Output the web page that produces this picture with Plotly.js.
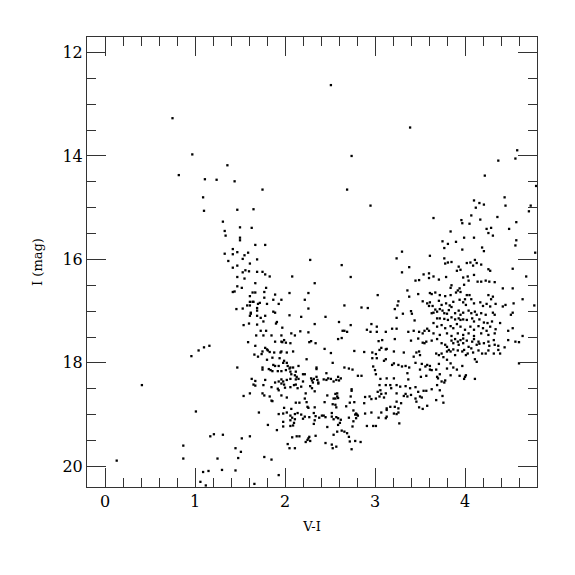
<!DOCTYPE html>
<html>
<head>
<meta charset="utf-8">
<script src="https://cdn.plot.ly/plotly-3.0.1.min.js"></script>
<style>html,body{margin:0;padding:0;background:#fff;}#chart{width:575px;height:575px;}</style>
</head>
<body>
<div id="chart"></div>
<script>
// Colour-magnitude diagram: [V-I, I (mag)]
const brightStars = [[0.75,13.27],[0.97,13.97],[1.36,14.18],[0.82,14.37],[1.11,14.45],[1.24,14.46],[1.44,14.49],
[1.09,14.80],[1.10,15.06],[1.31,15.27],[1.33,15.45],[1.34,15.54],[1.42,15.80],[1.42,15.90],[1.33,15.89],[1.37,16.03],[1.42,16.16],[1.42,16.63],[1.44,16.62],
[2.51,12.63],[2.74,14.00],[3.39,13.45],[4.58,13.89],[4.37,14.09],[4.56,14.05],[4.22,14.38],[4.79,14.58]];

const blueFaint = [[1.16,17.67],[1.10,17.70],[1.04,17.76],[0.96,17.87],[0.41,18.43],[1.01,18.94],[1.31,19.39],[1.21,19.38],[1.17,19.42],[0.87,19.60],[1.45,19.65],[0.87,19.85],[1.25,19.85],[0.13,19.89],[1.09,20.11],[1.15,20.09],[1.30,20.07],[1.45,20.08],[1.06,20.30],[1.12,20.37],[1.93,20.17],[1.66,20.34]];

const blueSequence = [[1.75,14.65],[2.69,14.65],[1.47,15.04],[1.65,15.03],[2.95,14.96],[1.50,15.38],[1.63,15.39],[1.50,15.58],[1.50,15.63],[1.67,15.72],[1.78,15.72],[1.47,15.86],[1.59,15.87],[1.55,15.92],[1.53,15.99],[1.69,16.00],[1.61,16.08],[2.28,16.01],[2.63,16.11],[1.47,16.12],[1.56,16.21],[1.53,16.25],[1.60,16.23],[1.69,16.24],[1.75,16.24],[1.78,16.29],[1.83,16.33],[2.08,16.33],[2.73,16.34],[1.47,16.34],[1.55,16.37],[1.67,16.46],[2.33,16.46],[1.47,16.52],[1.52,16.55],[1.79,16.55],[1.64,16.64],[1.67,16.64],[1.77,16.63],[1.89,16.68],[2.05,16.65],[2.26,16.65],[3.03,16.69],[1.61,16.71],[1.77,16.74],[1.87,16.78],[1.96,16.78],[2.22,16.78],[1.61,16.82],[1.64,16.82],[1.65,16.82],[1.72,16.84],[1.70,16.86],[1.80,16.86],[1.93,16.86],[1.58,16.89],[1.61,16.89],[1.46,16.96],[1.53,16.95],[1.69,16.94],[2.26,16.95],[2.66,16.89],[2.85,16.93],[2.92,16.94],[1.69,16.99],[1.62,17.03],[1.62,17.05],[1.87,17.01],[1.89,17.03],[1.61,17.09],[1.69,17.09],[1.73,17.13],[1.78,17.09],[2.05,17.08],[2.18,17.11],[2.45,17.11],[1.76,17.20],[1.91,17.21],[1.90,17.24],[1.54,17.27],[1.60,17.24],[1.69,17.26],[2.33,17.25],[2.60,17.21],[2.73,17.27],[2.96,17.25],[3.02,17.30],[1.97,17.32],[1.73,17.38],[1.79,17.38],[2.07,17.43],[2.17,17.39],[2.26,17.41],[2.64,17.38],[2.66,17.38],[2.69,17.40],[2.91,17.36],[2.95,17.40],[3.02,17.40],[3.12,17.40],[1.68,17.47],[1.76,17.47],[1.85,17.47],[1.96,17.47],[2.11,17.47]];

const faintStars = [[1.59,17.60],[1.99,17.56],[2.01,17.61],[1.89,17.59],[1.96,17.59],[1.97,17.60],[2.06,17.62],[2.27,17.60],[2.29,17.58],[2.34,17.62],[2.59,17.54],[2.63,17.52],[3.04,17.58],[3.08,17.56],
[1.67,17.67],[1.78,17.71],[1.80,17.74],[1.81,17.76],[1.83,17.79],[1.75,17.78],[1.74,17.83],[1.66,17.84],[1.70,17.88],[1.88,17.80],[1.95,17.80],[1.96,17.78],[2.02,17.80],[2.09,17.78],[2.44,17.73],[2.51,17.81],[2.77,17.77],[2.88,17.79],[2.97,17.80],[3.07,17.71],[3.05,17.75],[3.01,17.83],[3.12,17.74],[2.97,17.91],[3.02,17.91],[3.12,17.93],[3.10,17.96],
[1.86,17.90],[1.94,17.91],[1.80,17.94],[2.24,17.93],[1.99,17.96],[1.98,18.00],[2.02,18.00],[2.53,18.00],[1.87,18.04],[1.89,18.06],[1.93,18.06],[2.03,18.06],[2.06,18.09],[2.01,18.14],[2.05,18.11],[2.09,18.09],[2.15,18.06],[2.35,18.09],[2.35,18.12],[2.66,18.09],[2.71,18.11],[2.75,18.13],[2.98,18.07],[3.00,18.14],[1.47,18.09],[1.75,18.09],[1.75,18.13],[1.82,18.12],[1.84,18.14],
[1.86,18.16],[1.92,18.16],[1.96,18.16],[2.06,18.17],[2.12,18.17],[2.07,18.22],[2.11,18.24],[2.13,18.27],[2.20,18.22],[2.22,18.22],[2.35,18.27],[2.46,18.20],[2.48,18.30],[2.51,18.31],[2.59,18.27],[2.62,18.30],[2.60,18.34],[2.81,18.25],[2.85,18.25],[3.01,18.22],[3.06,18.31],[1.63,18.31],[1.67,18.35],[1.78,18.33],[1.96,18.32],[2.02,18.33],[2.06,18.31],[2.12,18.32],[1.98,18.36],[1.96,18.40],[1.99,18.42],[1.93,18.36],[1.89,18.38],[2.15,18.31],[2.20,18.36],[2.29,18.30],[2.30,18.34],[2.32,18.31],[2.36,18.33],[2.37,18.38],[2.31,18.38],[2.46,18.33],[2.57,18.33],[1.65,18.42],[1.67,18.44],[1.76,18.43],[1.85,18.47],[1.92,18.50],[1.93,18.53],[2.00,18.48],[2.06,18.47],[2.14,18.49],[2.18,18.46],[2.28,18.45],[2.30,18.49],[2.33,18.55],[2.23,18.59],[2.12,18.42],[2.10,18.43],[2.37,18.40],[2.43,18.32],[2.54,18.36],
[2.74,18.51],[2.74,18.54],[3.05,18.43],[3.06,18.53],[3.12,18.43],[3.03,18.56],[3.07,18.60],[1.54,18.64],[1.61,18.59],[1.75,18.59],[1.77,18.63],[1.83,18.65],[1.85,18.73],[1.86,18.74],[1.96,18.63],[2.02,18.67],[2.47,18.63],[2.56,18.60],[2.58,18.59],[2.58,18.65],[2.56,18.69],[2.54,18.69],[2.59,18.68],[2.73,18.65],[2.89,18.66],[2.88,18.78],[2.94,18.65],[2.96,18.70],[3.01,18.69],[3.05,18.65],[3.10,18.67],[3.12,18.59],[2.22,18.69],[2.24,18.76],[2.12,18.77],[2.16,18.77],[2.44,18.76],[2.53,18.80],[2.56,18.81],[2.72,18.77],[2.77,18.76],
[2.25,18.85],[2.26,18.87],[2.33,18.86],[2.57,18.86],[2.68,18.84],[2.76,18.92],[2.79,18.98],[2.80,19.00],[2.78,19.00],[2.81,19.02],[2.89,18.98],[2.96,18.96],[3.07,18.96],[3.13,18.91],[1.99,18.87],[2.07,18.89],[1.71,18.96],[1.93,18.99],[1.98,18.98],[2.02,18.96],[2.06,19.02],[2.08,19.06],[2.11,18.99],[2.14,18.97],[2.18,19.00],[2.22,19.04],[2.20,19.08],[2.27,19.05],[2.32,18.97],[2.34,19.03],[2.38,19.06],[2.41,19.02],[2.43,19.02],[2.45,19.05],[2.52,18.97],[2.52,19.04],[2.57,19.05],[2.54,19.09],[2.59,19.07],[2.62,19.10],[2.71,19.06],[2.79,19.07],[3.04,19.06],[3.12,19.07],[2.33,19.11],
[1.98,19.14],[2.06,19.11],[2.11,19.09],[2.10,19.16],[2.09,19.21],[1.98,19.23],[2.06,19.22],[2.32,19.18],[2.47,19.24],[2.59,19.20],[2.61,19.16],[2.75,19.23],[2.76,19.13],[2.91,19.22],[2.98,19.22],[3.01,19.22],[1.81,19.20],[1.91,19.30],[2.54,19.39],[2.58,19.33],[2.63,19.31],[2.66,19.33],[2.69,19.36],[2.08,19.44],[2.13,19.42],[2.16,19.42],[2.27,19.43],[2.26,19.46],[2.25,19.49],[2.34,19.41],[2.71,19.43],
[1.61,19.42],[1.52,19.46],[2.03,19.57],[2.05,19.65],[2.11,19.65],[2.23,19.53],[2.28,19.51],[2.45,19.55],[2.52,19.58],[2.53,19.65],[2.57,19.62],[2.72,19.52],[2.74,19.67],[2.78,19.51],[2.84,19.53],[1.51,19.72],[1.48,19.84],[1.77,19.82],[1.85,19.87]];

const redGiants = [[4.44,14.80],[4.45,14.96],[4.10,14.86],[4.16,14.91],[4.21,14.94],[4.12,15.00],[4.73,14.96],[4.71,15.07],[4.07,15.15],[4.36,15.18],[4.57,15.28],[3.65,15.20],[3.96,15.24],[3.97,15.30],[4.05,15.31],[4.17,15.23],[4.24,15.41],[4.29,15.39],[4.26,15.49],[4.31,15.54],[4.49,15.41],[3.84,15.46],[3.99,15.58],[4.10,15.58],[3.75,15.65],[3.81,15.70],[3.90,15.66],[4.57,15.63],[4.56,15.73],[3.77,15.78],[3.97,15.81],[4.19,15.77],[4.21,15.84],[4.78,15.87],[3.30,15.85],[3.24,15.98],[3.61,15.93],[3.77,15.98],[3.81,16.06],[3.85,16.05],[3.78,16.08],[3.38,16.15],[3.30,16.25],[3.54,16.29],[3.60,16.27],[3.65,16.33],[3.60,16.36],[3.49,16.40],[3.45,16.41],[3.71,16.39],[3.79,16.34],[3.93,16.14],[3.95,16.20],[3.91,16.22],[4.02,16.07],[4.06,16.06],[4.09,16.12],[4.11,16.01],[4.13,16.07],[4.18,16.10],[4.26,16.19],[4.28,16.22],[4.53,16.18],[4.68,16.33],[3.98,16.35],[4.03,16.33],[4.04,16.41],[4.10,16.30],[4.14,16.43],[4.18,16.43],[4.23,16.41],[4.27,16.43],[4.33,16.44],[3.85,16.50],[3.84,16.55],[3.94,16.56],[3.99,16.49],[4.42,16.56],[4.53,16.56],[3.36,16.60],[3.48,16.67],[3.38,16.72],[3.61,16.65],[3.63,16.67],[3.67,16.64],[3.72,16.69],[3.78,16.71],[3.84,16.69],[3.90,16.64],[3.92,16.60],[3.95,16.63],[4.02,16.69],[4.05,16.69],[4.00,16.77],[4.07,16.77],[4.26,16.69],[4.29,16.77],[4.31,16.72],[3.53,16.81],[3.58,16.85],[3.61,16.83],[3.64,16.90],[3.60,16.90],[3.71,16.80],[3.74,16.88],[3.79,16.85],[3.83,16.89],[3.87,16.82],[3.94,16.78],[3.98,16.83],[4.01,16.88],[4.10,16.85],[4.17,16.83],[4.20,16.90],[4.24,16.86],[4.28,16.91],[4.34,16.86],[4.45,16.88],[4.54,16.85],[4.64,16.77],[4.77,16.89],[3.26,16.81],[3.25,16.89],[3.22,16.96],[3.31,17.05],[3.40,17.00],[3.41,17.05],[3.44,17.18],[3.24,17.13],[3.19,17.34],[3.24,17.34],[3.37,17.40],[3.43,17.38],[3.49,17.40],[3.55,17.38],[3.53,17.43],[3.58,17.34],[3.60,17.38],[3.63,17.04],[3.65,17.03],[3.67,16.97],[3.69,17.01],[3.72,16.96],[3.75,16.99],[3.77,17.04],[3.80,17.05],[3.82,16.98],[3.85,16.92],[3.89,17.04],[3.93,16.99],[3.95,17.07],[3.98,17.03],[4.04,16.99],[4.07,17.04],[4.11,17.01],[4.13,17.07],[4.18,17.04],[4.23,17.07],[4.31,17.03],[4.33,17.07],[4.42,16.91],[4.53,17.03],[4.51,17.07],
[3.69,17.14],[3.72,17.14],[3.77,17.15],[3.81,17.17],[3.85,17.12],[3.89,17.16],[3.93,17.14],[3.95,17.17],[3.98,17.16],[4.02,17.17],[4.08,17.14],[4.10,17.20],[4.16,17.16],[4.21,17.22],[4.25,17.23],[4.30,17.20],
[3.65,17.23],[3.69,17.30],[3.74,17.27],[3.78,17.33],[3.84,17.29],[3.87,17.33],[3.91,17.25],[3.95,17.30],[4.00,17.36],[4.06,17.30],[4.10,17.36],[4.15,17.29],[4.20,17.33],[4.24,17.38],[4.28,17.30],[4.34,17.35],[4.39,17.23],[4.48,17.38],[4.53,17.33],[4.64,17.48],
[3.65,17.43],[3.72,17.46],[3.80,17.43],[3.85,17.48],[3.92,17.43],[3.98,17.46],[4.04,17.43],[4.10,17.48],[4.18,17.43],[4.26,17.46],[4.33,17.43]];

const redLower = [[3.22,17.54],[3.40,17.57],[3.48,17.53],[3.53,17.61],[3.55,17.62],[3.57,17.59],[3.63,17.57],[3.69,17.54],[3.74,17.62],[3.78,17.65],[3.80,17.69],[3.85,17.57],[3.87,17.62],[3.89,17.54],[3.92,17.59],[3.93,17.65],[3.95,17.56],[3.98,17.53],[3.98,17.62],[4.02,17.57],[4.04,17.69],[4.08,17.59],[4.10,17.54],[4.13,17.65],[4.15,17.59],[4.16,17.63],[4.21,17.62],[4.26,17.59],[4.27,17.67],[4.32,17.56],[4.33,17.65],[4.37,17.67],[4.44,17.70],[4.48,17.56],[4.56,17.59],[4.60,17.60],
[3.13,17.73],[3.21,17.78],[3.32,17.80],[3.43,17.88],[3.46,17.80],[3.49,17.78],[3.50,17.85],[3.68,17.82],[3.71,17.85],[3.74,17.82],[3.76,17.89],[3.80,17.78],[3.82,17.75],[3.84,17.78],[3.87,17.74],[3.89,17.85],[3.92,17.76],[3.97,17.78],[3.99,17.75],[4.01,17.85],[4.03,17.82],[4.07,17.72],[4.09,17.80],[4.11,17.93],[4.13,17.98],[4.15,17.76],[4.19,17.82],[4.23,17.82],[4.26,17.76],[4.32,17.82],[4.37,17.75],[4.39,17.82],[4.60,18.01],
[3.19,18.04],[3.21,18.01],[3.26,18.04],[3.30,18.07],[3.34,18.06],[3.38,18.09],[3.45,18.00],[3.50,18.13],[3.52,18.02],[3.56,18.07],[3.58,18.04],[3.61,18.06],[3.61,18.13],[3.63,18.14],[3.68,18.13],[3.71,18.02],[3.72,18.22],[3.80,18.11],[3.84,18.24],[3.87,18.09],[3.91,18.13],[3.97,18.06],[4.00,18.27],[4.01,18.24],[3.80,17.94],[3.84,18.01],
[3.13,18.30],[3.21,18.30],[3.36,18.20],[3.37,18.32],[3.51,18.27],[3.57,18.25],[3.69,18.27],[3.70,18.30],[3.78,18.34],[3.77,18.38],[3.74,18.36],[3.94,18.25],[3.99,18.31],[4.11,18.31],
[3.17,18.43],[3.24,18.43],[3.18,18.49],[3.28,18.46],[3.34,18.45],[3.39,18.49],[3.45,18.47],[3.48,18.56],[3.54,18.54],[3.57,18.54],[3.63,18.51],[3.69,18.43],[3.72,18.53],[3.75,18.64],[3.68,18.72],[3.76,18.77],
[3.24,18.59],[3.34,18.60],[3.32,18.64],[3.36,18.65],[3.40,18.62],[3.45,18.69],[3.50,18.65],[3.52,18.67],[3.46,18.75],[3.24,18.75],[3.29,18.78],[3.17,18.85],[3.22,18.85],[3.26,18.88],[3.13,18.88],[3.21,18.98],[3.24,18.99],[3.26,18.96],[3.27,19.17],[3.49,18.86],[3.53,18.89],[3.58,18.83],[3.13,19.04]];

const xTicks = [0, 1, 2, 3, 4];
const yTicks = [12, 14, 16, 18, 20];

const groups = [brightStars, blueFaint, blueSequence, faintStars, redGiants, redLower];
const all = [].concat(...groups);

const trace = {
  x: all.map(p => p[0]),
  y: all.map(p => p[1]),
  mode: 'markers',
  type: 'scatter',
  marker: {color: '#000', size: 2.3, symbol: 'square', line: {width: 0}},
  hoverinfo: 'skip'
};

const font = {family: 'DejaVu Serif, serif', color: '#000'};
const axisCommon = {
  showline: true, linecolor: '#333', linewidth: 1, mirror: 'ticks',
  ticks: 'inside', ticklen: 19, tickwidth: 1, tickcolor: '#333',
  showgrid: false, zeroline: false,
  tickfont: {family: font.family, size: 16, color: '#000'}
};

const layout = {
  width: 575, height: 575,
  margin: {l: 87, r: 38, t: 37, b: 88},
  paper_bgcolor: '#fff', plot_bgcolor: '#fff',
  showlegend: false,
  font: font,
  xaxis: Object.assign({}, axisCommon, {
    range: [-0.2, 4.8], tickvals: xTicks, ticktext: xTicks.map(String),
    minor: {ticks: 'inside', ticklen: 9, dtick: 0.2, tick0: 0, tickcolor: '#333', showgrid: false},
    title: {text: 'V-I', font: {family: font.family, size: 13, color: '#000'}, standoff: 11}
  }),
  yaxis: Object.assign({}, axisCommon, {
    range: [20.4, 11.7], tickvals: yTicks, ticktext: yTicks.map(String),
    minor: {ticks: 'inside', ticklen: 9, dtick: 0.5, tick0: 0, tickcolor: '#333', showgrid: false},
    title: {text: 'I (mag)', font: {family: font.family, size: 13, color: '#000'}, standoff: 16}
  })
};

Plotly.newPlot('chart', [trace], layout, {staticPlot: true, displayModeBar: false});
</script>
</body>
</html>
